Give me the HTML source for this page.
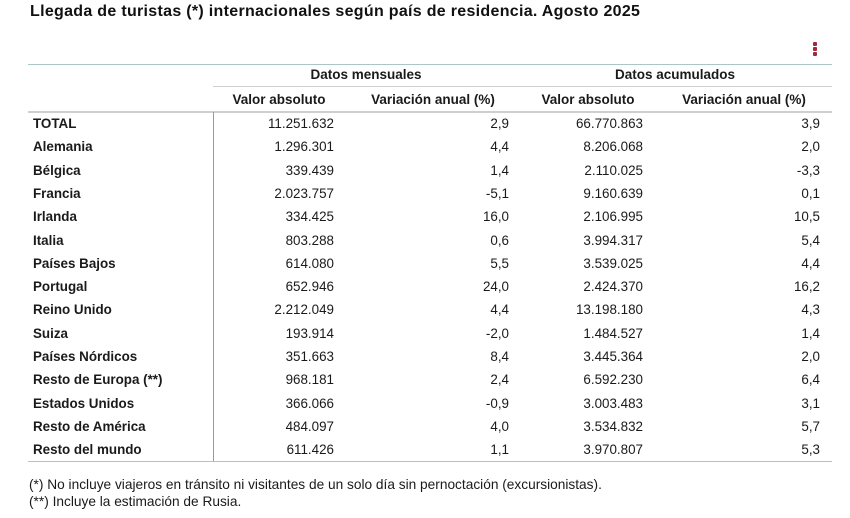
<!DOCTYPE html>
<html><head><meta charset="utf-8">
<style>
html,body{margin:0;padding:0;background:#fff;}
body{width:850px;height:518px;position:relative;overflow:hidden;font-family:"Liberation Sans",Arial,sans-serif;color:#1a1a1a;}
.t{position:absolute;left:30px;top:3px;font-size:16px;font-weight:bold;letter-spacing:0.3px;white-space:nowrap;color:#111;}
.k{position:absolute;left:813px;width:4px;height:4px;background:#a3283c;border-radius:1px;}
.hl{position:absolute;height:0;}
.row{position:absolute;left:28px;width:804px;height:23.3px;line-height:23.3px;font-size:13.4px;}
.row span{position:absolute;top:0;white-space:nowrap;}
.lab{left:5px;font-weight:bold;}
.c1{right:498px;}
.c2{right:323px;}
.c3{right:189px;}
.c4{right:12px;}
.h{position:absolute;font-size:13.5px;font-weight:bold;white-space:nowrap;text-align:center;line-height:16px;}
.fn{position:absolute;left:29px;font-size:13.7px;white-space:nowrap;line-height:16px;}
</style></head><body>
<div class="t">Llegada de turistas (*) internacionales según país de residencia. Agosto 2025</div>
<div class="k" style="top:42px"></div>
<div class="k" style="top:47px"></div>
<div class="k" style="top:52px"></div>

<div class="hl" style="left:28px;width:804px;top:64px;border-top:1.5px solid #a9c7c9;"></div>
<div class="hl" style="left:213px;width:619px;top:86px;border-top:1.5px solid #cfcfcf;"></div>
<div class="hl" style="left:28px;width:804px;top:111px;border-top:2px solid #cfcfcf;"></div>
<div class="hl" style="left:28px;width:804px;top:461px;border-top:1.5px solid #a9c7c9;"></div>
<div style="position:absolute;left:213px;top:112px;width:1px;height:349px;background:#9a9a9a;"></div>

<div class="h" style="left:214px;width:304px;top:67px;">Datos mensuales</div>
<div class="h" style="left:518px;width:314px;top:67px;">Datos acumulados</div>
<div class="h" style="left:214px;width:130px;top:92px;">Valor absoluto</div>
<div class="h" style="left:344px;width:178px;top:92px;">Variación anual (%)</div>
<div class="h" style="left:518px;width:140px;top:92px;">Valor absoluto</div>
<div class="h" style="left:658px;width:172px;top:92px;">Variación anual (%)</div>

<div class="row" style="top:112px"><span class="lab">TOTAL</span><span class="c1">11.251.632</span><span class="c2">2,9</span><span class="c3">66.770.863</span><span class="c4">3,9</span></div>
<div class="row" style="top:135.3px"><span class="lab">Alemania</span><span class="c1">1.296.301</span><span class="c2">4,4</span><span class="c3">8.206.068</span><span class="c4">2,0</span></div>
<div class="row" style="top:158.6px"><span class="lab">Bélgica</span><span class="c1">339.439</span><span class="c2">1,4</span><span class="c3">2.110.025</span><span class="c4">-3,3</span></div>
<div class="row" style="top:181.9px"><span class="lab">Francia</span><span class="c1">2.023.757</span><span class="c2">-5,1</span><span class="c3">9.160.639</span><span class="c4">0,1</span></div>
<div class="row" style="top:205.2px"><span class="lab">Irlanda</span><span class="c1">334.425</span><span class="c2">16,0</span><span class="c3">2.106.995</span><span class="c4">10,5</span></div>
<div class="row" style="top:228.5px"><span class="lab">Italia</span><span class="c1">803.288</span><span class="c2">0,6</span><span class="c3">3.994.317</span><span class="c4">5,4</span></div>
<div class="row" style="top:251.8px"><span class="lab">Países Bajos</span><span class="c1">614.080</span><span class="c2">5,5</span><span class="c3">3.539.025</span><span class="c4">4,4</span></div>
<div class="row" style="top:275.1px"><span class="lab">Portugal</span><span class="c1">652.946</span><span class="c2">24,0</span><span class="c3">2.424.370</span><span class="c4">16,2</span></div>
<div class="row" style="top:298.4px"><span class="lab">Reino Unido</span><span class="c1">2.212.049</span><span class="c2">4,4</span><span class="c3">13.198.180</span><span class="c4">4,3</span></div>
<div class="row" style="top:321.7px"><span class="lab">Suiza</span><span class="c1">193.914</span><span class="c2">-2,0</span><span class="c3">1.484.527</span><span class="c4">1,4</span></div>
<div class="row" style="top:345px"><span class="lab">Países Nórdicos</span><span class="c1">351.663</span><span class="c2">8,4</span><span class="c3">3.445.364</span><span class="c4">2,0</span></div>
<div class="row" style="top:368.3px"><span class="lab">Resto de Europa (**)</span><span class="c1">968.181</span><span class="c2">2,4</span><span class="c3">6.592.230</span><span class="c4">6,4</span></div>
<div class="row" style="top:391.6px"><span class="lab">Estados Unidos</span><span class="c1">366.066</span><span class="c2">-0,9</span><span class="c3">3.003.483</span><span class="c4">3,1</span></div>
<div class="row" style="top:414.9px"><span class="lab">Resto de América</span><span class="c1">484.097</span><span class="c2">4,0</span><span class="c3">3.534.832</span><span class="c4">5,7</span></div>
<div class="row" style="top:438.2px"><span class="lab">Resto del mundo</span><span class="c1">611.426</span><span class="c2">1,1</span><span class="c3">3.970.807</span><span class="c4">5,3</span></div>

<div class="fn" style="top:477px">(*) No incluye viajeros en tránsito ni visitantes de un solo día sin pernoctación (excursionistas).</div>
<div class="fn" style="top:494px">(**) Incluye la estimación de Rusia.</div>
</body></html>
